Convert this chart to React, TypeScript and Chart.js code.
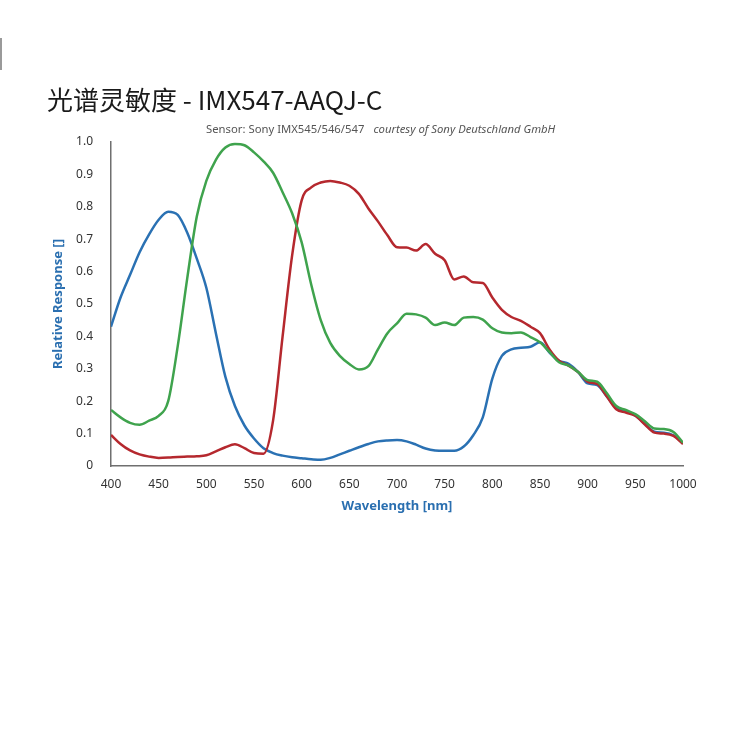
import React, { useEffect, useRef } from "react";
import { Chart, registerables } from "chart.js";

Chart.register(...registerables);

const wavelengths = [
  400, 410, 420, 430, 440, 450, 460, 470, 480, 490, 500, 510, 520, 530, 540, 550, 560, 570, 580, 590,
  600, 610, 620, 630, 640, 650, 660, 670, 680, 690, 700, 710, 720, 730, 740, 750, 760, 770, 780, 790,
  800, 810, 820, 830, 840, 850, 860, 870, 880, 890, 900, 910, 920, 930, 940, 950, 960, 970, 980, 990, 1000,
];

const blueValues = [
  0.43, 0.52, 0.59, 0.66, 0.715, 0.76, 0.785, 0.775, 0.72, 0.64, 0.55, 0.41, 0.275, 0.185, 0.125, 0.085, 0.055, 0.04, 0.032, 0.027,
  0.024, 0.021, 0.019, 0.025, 0.036, 0.047, 0.058, 0.068, 0.076, 0.079, 0.08, 0.076, 0.066, 0.054, 0.048, 0.047, 0.047, 0.06, 0.095, 0.15,
  0.27, 0.34, 0.36, 0.365, 0.368, 0.382, 0.35, 0.325, 0.315, 0.29, 0.255, 0.25, 0.215, 0.18, 0.168, 0.155, 0.13, 0.106, 0.103, 0.095, 0.07,
];

const greenValues = [
  0.173, 0.15, 0.133, 0.127, 0.14, 0.155, 0.2, 0.37, 0.58, 0.77, 0.88, 0.945, 0.983, 0.994, 0.99, 0.968, 0.94, 0.905, 0.845, 0.78,
  0.69, 0.56, 0.45, 0.38, 0.34, 0.315, 0.298, 0.308, 0.36, 0.41, 0.44, 0.47, 0.468, 0.458, 0.435, 0.443, 0.435, 0.458, 0.46, 0.452,
  0.425, 0.412, 0.41, 0.412, 0.398, 0.382, 0.352, 0.32, 0.31, 0.29, 0.265, 0.26, 0.225, 0.185, 0.173, 0.16, 0.138, 0.116, 0.114, 0.105, 0.072,
];

const redValues = [
  0.096, 0.068, 0.048, 0.036, 0.029, 0.025, 0.026, 0.028, 0.029, 0.03, 0.033, 0.045, 0.058, 0.067, 0.055, 0.04, 0.038, 0.14, 0.4, 0.65,
  0.82, 0.86, 0.875, 0.88, 0.875, 0.865, 0.84, 0.795, 0.755, 0.712, 0.675, 0.674, 0.665, 0.685, 0.655, 0.635, 0.576, 0.585, 0.567, 0.565,
  0.52, 0.482, 0.46, 0.448, 0.43, 0.41, 0.36, 0.325, 0.31, 0.29, 0.26, 0.253, 0.215, 0.175, 0.165, 0.155, 0.128, 0.103, 0.1, 0.093, 0.068,
];

const titleText = "光谱灵敏度 - IMX547-AAQJ-C";
const subtitleSensor = "Sensor: Sony IMX545/546/547";
const subtitleCourtesy = "courtesy of Sony Deutschland GmbH";
const xAxisTitle = "Wavelength [nm]";
const yAxisTitle = "Relative Response []";

const toPoints = (vals: number[]) => wavelengths.map((w, i) => ({ x: w, y: vals[i] }));

export default function App() {
  const canvasRef = useRef<HTMLCanvasElement | null>(null);

  useEffect(() => {
    if (!canvasRef.current) return;
    const font = "'Noto Sans', 'DejaVu Sans', sans-serif";
    const common = {
      borderWidth: 2.5,
      pointRadius: 0,
      fill: false,
      cubicInterpolationMode: "monotone" as const,
    };
    const chart = new Chart(canvasRef.current, {
      type: "line",
      data: {
        datasets: [
          { ...common, label: "G", data: toPoints(greenValues), borderColor: "#3fa34d" },
          { ...common, label: "R", data: toPoints(redValues), borderColor: "#b5282e" },
          { ...common, label: "B", data: toPoints(blueValues), borderColor: "#2a71b3" },
        ],
      },
      options: {
        responsive: false,
        animation: false,
        layout: { padding: { left: 0, top: 142, right: 67, bottom: 233 } },
        plugins: { legend: { display: false }, tooltip: { enabled: false } },
        scales: {
          x: {
            type: "linear",
            min: 400,
            max: 1000,
            grid: { display: false, drawTicks: false },
            border: { display: true, color: "#6f6f6f", width: 1.5 },
            ticks: {
              stepSize: 50,
              padding: 11,
              color: "#333",
              font: { family: font, size: 12 },
              maxRotation: 0,
              callback: (v: any) => String(v),
            },
            title: {
              display: true,
              text: xAxisTitle,
              color: "#2a6fb0",
              font: { family: font, size: 13, weight: "bold" },
              padding: { top: 4, bottom: 3 },
            },
            afterFit: (scale: any) => {
              scale.height = 51;
            },
          },
          y: {
            min: 0,
            max: 1,
            grid: { display: false, drawTicks: false },
            border: { display: true, color: "#6f6f6f", width: 1.5 },
            ticks: {
              stepSize: 0.1,
              padding: 18,
              color: "#333",
              font: { family: font, size: 12 },
              callback: (v: any) => (Number(v) === 0 ? "0" : Number(v).toFixed(1)),
            },
            title: {
              display: true,
              text: yAxisTitle,
              color: "#2a6fb0",
              font: { family: font, size: 13, weight: "bold" },
              padding: { top: 50, bottom: 4 },
            },
            afterFit: (scale: any) => {
              scale.width = 111;
            },
          },
        },
      },
    });
    return () => chart.destroy();
  }, []);

  return (
    <div style={{ position: "absolute", left: 0, top: 0, width: 750, height: 750, background: "#fff" }}>
      <div style={{ position: "absolute", left: 0, top: 38, width: 2, height: 32, background: "#9a9a9a" }} />
      <canvas ref={canvasRef} width={750} height={750} style={{ position: "absolute", left: 0, top: 0 }} />
      <div
        style={{
          position: "absolute",
          left: 47,
          top: 82,
          fontFamily: "'Noto Sans CJK SC', 'Noto Sans', sans-serif",
          fontSize: 26,
          lineHeight: "34px",
          color: "#1a1a1a",
          whiteSpace: "nowrap",
        }}
      >
        {titleText}
      </div>
      <div
        style={{
          position: "absolute",
          left: 206,
          top: 121,
          fontFamily: "'Noto Sans', sans-serif",
          fontSize: 11.3,
          lineHeight: "16px",
          color: "#555",
          whiteSpace: "nowrap",
        }}
      >
        <span>{subtitleSensor}</span>
        <span style={{ fontStyle: "italic", marginLeft: 9 }}>{subtitleCourtesy}</span>
      </div>
    </div>
  );
}
